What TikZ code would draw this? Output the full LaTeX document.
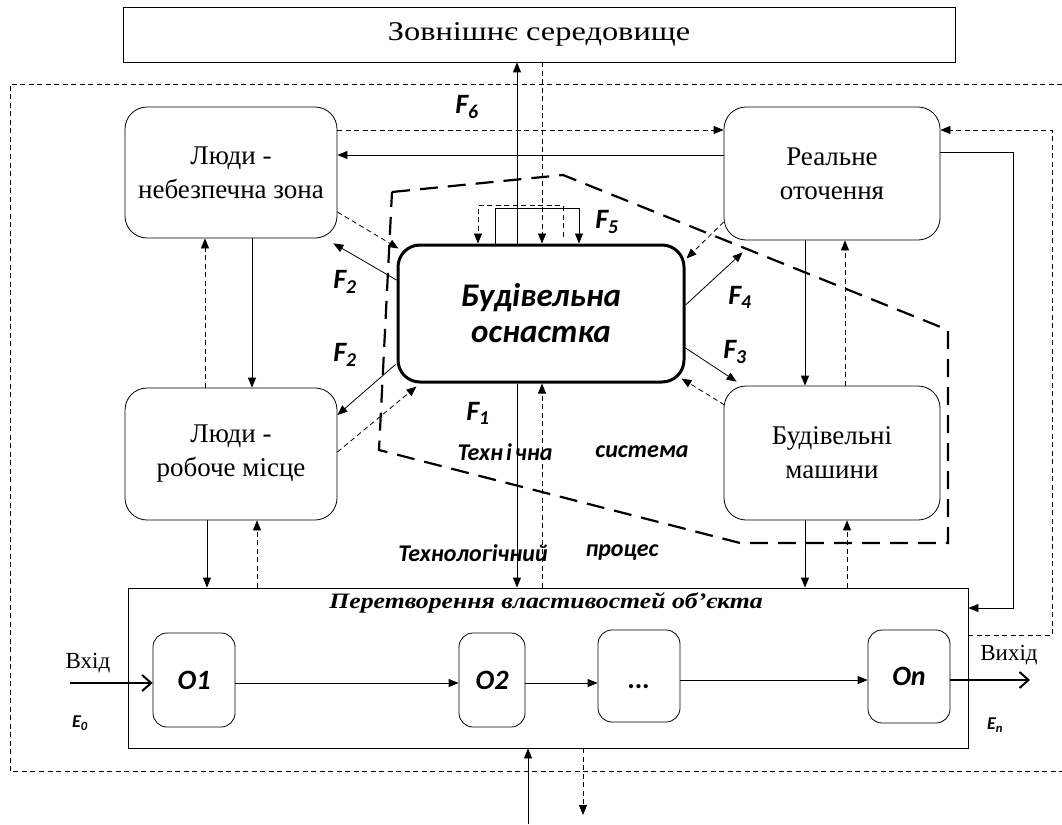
\documentclass[tikz,border=0pt]{standalone}
\usepackage{fontspec}
\setmainfont{Liberation Serif}
\newfontfamily\calib{Carlito}
\usetikzlibrary{arrows.meta,calc}
\begin{document}
\begin{tikzpicture}[x=1pt,y=-1pt,
  box/.style={draw,line width=0.8pt,rounded corners=22pt,align=center,font=\fontsize{27}{34}\selectfont,inner sep=0pt},
  sbox/.style={draw,line width=0.8pt,rounded corners=14pt,inner sep=0pt,font=\calib\bfseries\itshape\fontsize{28}{30}\selectfont},
  rbox/.style={draw,line width=0.8pt,inner sep=0pt},
  sarrow/.style={line width=0.8pt,-{Triangle[length=10pt,width=8pt]}},
  darrow/.style={line width=0.8pt,dash pattern=on 5pt off 3.5pt,-{Triangle[length=10pt,width=8pt]}},
  sline/.style={line width=0.8pt},
  dline/.style={line width=0.8pt,dash pattern=on 5pt off 3.5pt},
  flabel/.style={font=\calib\bfseries\itshape\fontsize{28}{30}\selectfont,inner sep=0pt},
  tlabel/.style={font=\calib\bfseries\itshape\fontsize{24}{26}\selectfont,inner sep=0pt},
  iolabel/.style={font=\fontsize{23}{26}\selectfont,inner sep=0pt},
  openarrow/.style={line width=2pt,-{Straight Barb[length=9pt,width=16pt,line width=2pt]}}
]
\useasboundingbox (0,0) rectangle (1062,824);
% outer dashed frame
\draw[dline] (1062,84) -- (10,84) -- (10,771) -- (1062,771);
% nodes
\node[rbox,minimum width=832pt,minimum height=55pt,font=\fontsize{27}{30}\selectfont] (top) at (539,34.5) {\scalebox{1.2}[1]{Зовнішнє середовище}};
\node[box,minimum width=212pt,minimum height=131pt] (LD) at (231,172.5) {Люди -\\небезпечна зона};
\node[box,minimum width=216pt,minimum height=133pt] (RO) at (832,173.5) {Реальне\\оточення};
\node[box,minimum width=212pt,minimum height=132pt] (LR) at (231,454) {Люди -\\робоче місце};
\node[box,minimum width=216pt,minimum height=134pt] (BM) at (832,453) {Будівельні\\машини};
\node[box,line width=3pt,minimum width=286pt,minimum height=137pt,font=\calib\bfseries\itshape\fontsize{33}{36}\selectfont] (OS) at (541,313.5) {Будівельна\\оснастка};
\node[rbox,minimum width=840pt,minimum height=160pt] (PT) at (548,668) {};
\node[font=\bfseries\itshape\fontsize{22}{24}\selectfont,inner sep=0pt] (PTt) at (546,603) {\scalebox{1.17}[1]{Перетворення властивостей об'єкта}};
\node[sbox,minimum width=82pt,minimum height=94pt] (O1) at (194,680) {O1};
\node[sbox,minimum width=66pt,minimum height=94pt] (O2) at (492,680) {O2};
\node[sbox,minimum width=82pt,minimum height=92pt] (Od) at (639,676) {\raisebox{-12pt}[0pt][0pt]{...}};
\node[sbox,minimum width=82pt,minimum height=93pt] (On) at (909,676.5) {On};
% technical system boundary
\draw[line width=2.2pt,dash pattern=on 18pt off 10pt] (392,192) -- (563,175) -- (948,330) -- (948,543) -- (740,543) -- (379,450) -- cycle;
% labels
\node[flabel] (F6) at (467,107) {F\textsubscript{6}};
\node[flabel] (F5) at (607,222) {F\textsubscript{5}};
\node[flabel] (F2a) at (345,282) {F\textsubscript{2}};
\node[flabel] (F2b) at (345,355) {F\textsubscript{2}};
\node[flabel] (F4) at (740,297) {F\textsubscript{4}};
\node[flabel] (F3) at (735,352) {F\textsubscript{3}};
\node[flabel] (F1) at (478,413) {F\textsubscript{1}};
\node[tlabel] (t1) at (505,452) {Техн\hspace{3pt}і\hspace{3pt}чна};
\node[tlabel] (t2) at (642,452) {система};
\node[tlabel] (t3) at (473,553) {Технологічний};
\node[tlabel] (t4) at (622,553) {процес};
\node[iolabel] (vin) at (88,663) {Вхід};
\node[iolabel] (vout) at (1009,655) {Вихід};
\node[font=\calib\bfseries\itshape\fontsize{18}{20}\selectfont,inner sep=0pt] (E0) at (80,723) {E\textsubscript{0}};
\node[font=\calib\bfseries\itshape\fontsize{18}{20}\selectfont,inner sep=0pt] (En) at (995,725) {E\textsubscript{n}};
% LD <-> RO
\draw[sarrow] ($(RO.west)+(0,-18.5)$) -- ($(LD.east)+(0,-17.5)$);
\draw[darrow] ($(LD.east)+(0,-42.5)$) -- ($(RO.west)+(0,-43.5)$);
% OS <-> top
\coordinate (a) at ($(OS.north)+(-24,0)$);
\coordinate (b) at ($(OS.north)+(1,0)$);
\draw[sarrow] (a) -- (a |- top.south);
\draw[darrow] (b |- top.south) -- (b);
% F5 loops
\draw[sarrow] ($(OS.north)+(-46,0)$) -- ++(0,-35) -| ($(OS.north)+(38,0)$);
\draw[darrow] ($(OS.north)+(22,-7)$) -- ++(0,-31) -| ($(OS.north)+(-63,0)$);
% F2 upper
\draw[sarrow] ($(OS.west)+(0,-33.5)$) -- ($(LD.south east)+(-4,5)$);
\draw[darrow] ($(LD.east)+(0,39.5)$) -- ($(OS.north west)+(2,5)$);
% F2 lower
\draw[sarrow] ($(OS.south west)+(-1,-19)$) -- ($(LR.east)+(0,-39)$);
\draw[darrow] ($(LR.east)+(0,-2)$) -- ($(OS.south west)+(20,3)$);
% F4
\draw[sarrow] ($(OS.east)+(0,-8.5)$) -- ($(RO.south west)+(19,12)$);
\draw[darrow] ($(RO.west)+(0,48.5)$) -- ($(OS.north east)+(1,15)$);
% F3
\draw[sarrow] ($(OS.east)+(0,34.5)$) -- ($(BM.north west)+(13,-4)$);
\draw[darrow] ($(BM.west)+(1,-48)$) -- ($(OS.south east)+(-4,-5)$);
% RO <-> BM
\draw[sarrow] ($(RO.south)+(-27,0)$) -- ($(BM.north)+(-27,0)$);
\draw[darrow] ($(BM.north)+(13,0)$) -- ($(RO.south)+(13,0)$);
% LD <-> LR
\draw[sarrow] ($(LD.south)+(21,0)$) -- ($(LR.north)+(21,0)$);
\draw[darrow] ($(LR.north)+(-26,0)$) -- ($(LD.south)+(-26,0)$);
% LR <-> PT
\coordinate (c) at ($(LR.south)+(-24,0)$);
\coordinate (d) at ($(LR.south)+(26,0)$);
\draw[sarrow] (c) -- (c |- PT.north);
\draw[darrow] (d |- PT.north) -- (d);
% BM <-> PT
\coordinate (e) at ($(BM.south)+(-27,0)$);
\coordinate (f) at ($(BM.south)+(15,0)$);
\draw[sarrow] (e) -- (e |- PT.north);
\draw[darrow] (f |- PT.north) -- (f);
% OS <-> PT
\coordinate (g) at ($(OS.south)+(-24,0)$);
\coordinate (h) at ($(OS.south)+(1,0)$);
\draw[sarrow] (g) -- (g |- PT.north);
\draw[darrow] (h |- PT.north) -- (h);
% bottom
\coordinate (bin) at (528,824);
\coordinate (bout) at (583,815);
\draw[sarrow] (bin) -- (bin |- PT.south);
\draw[darrow] (bout |- PT.south) -- (bout);
% right loops
\draw[darrow] ($(PT.east)+(0,-33)$) -- ++(84,0) |- ($(RO.east)+(0,-43.5)$);
\draw[sarrow] ($(RO.east)+(0,-21.5)$) -- ++(73,0) |- ($(PT.east)+(0,-60)$);
% process chain
\coordinate (in) at (70,683);
\coordinate (out) at (1030,680);
\draw[openarrow] (in) -- (O1.west |- in);
\draw[sarrow] (O1.east |- 0,683) -- (O2.west |- 0,683);
\draw[sarrow] (O2.east |- 0,683) -- (Od.west |- 0,683);
\draw[sarrow] (Od.east |- 0,680) -- (On.west |- 0,680);
\draw[openarrow] (On.east |- out) -- (out);
\end{tikzpicture}
\end{document}
